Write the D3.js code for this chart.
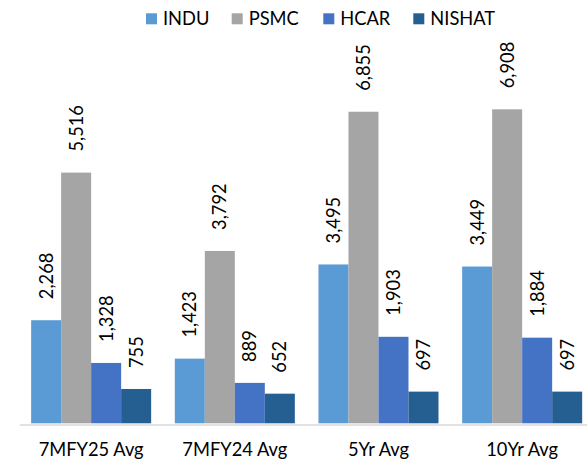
<!DOCTYPE html>
<html>
<head>
<meta charset="utf-8">
<script src="https://cdn.jsdelivr.net/npm/d3@7"></script>
<style>
  body { margin: 0; background: #fff; }
  text { font-family: Lato, "Open Sans", sans-serif; fill: #000; }
</style>
</head>
<body>
<svg id="chart"></svg>
<script>
// categories and series
let categorias = ["7MFY25 Avg", "7MFY24 Avg", "5Yr Avg", "10Yr Avg"];
let series = ["INDU", "PSMC", "HCAR", "NISHAT"];
let colores = ["#5B9BD5", "#A5A5A5", "#4472C4", "#255E91"];

// values per company, one per category
let indu = [2268, 1423, 3495, 3449];
let psmc = [5516, 3792, 6855, 6908];
let hcar = [1328, 889, 1903, 1884];
let nishat = [755, 652, 697, 697];

let valores = [indu, psmc, hcar, nishat];

let W = 587, H = 459;
let fs = 18.3;

let misvg = d3.select("#chart")
  .attr("width", W)
  .attr("height", H);

let x0 = d3.scaleBand()
  .domain(categorias)
  .range([19.3, 594])
  .paddingInner(0.1647)
  .paddingOuter(0.0824);

let x1 = d3.scaleBand()
  .domain(series)
  .range([0, x0.bandwidth()]);

let y = d3.scaleLinear()
  .domain([0, 8000])
  .range([423.3, 59.7]);

let fmt = d3.format(",");

// flatten into rows for drawing
let filas = [];
series.forEach((s, i) => {
  categorias.forEach((c, j) => {
    filas.push({ serie: s, cat: c, v: valores[i][j], color: colores[i] });
  });
});

misvg.selectAll("rect.bar")
  .data(filas)
  .enter()
  .append("rect")
  .attr("class", "bar")
  .attr("x", d => x0(d.cat) + x1(d.serie))
  .attr("y", d => y(d.v))
  .attr("width", x1.bandwidth())
  .attr("height", d => y(0) - y(d.v))
  .attr("fill", d => d.color);

// axis line
let eje = misvg.append("g")
  .attr("transform", "translate(0," + (y(0) + 1.2) + ")")
  .call(d3.axisBottom(x0).tickSize(0).tickPadding(19));
eje.select(".domain").attr("stroke", "#D9D9D9").attr("stroke-width", 1.5);
eje.selectAll("text")
  .style("font-family", "Lato, sans-serif")
  .attr("font-size", fs)
  .attr("fill", "#000")
  .attr("dy", "0.71em");

// value labels, rotated
misvg.selectAll("text.lbl")
  .data(filas)
  .enter()
  .append("text")
  .attr("class", "lbl")
  .attr("transform", d => "translate(" + (x0(d.cat) + x1(d.serie) + x1.bandwidth() / 2) + "," + (y(d.v) - 21) + ") rotate(-90)")
  .attr("dy", "0.35em")
  .attr("font-size", fs)
  .text(d => fmt(d.v));

// legend
let leyX = [146, 231.7, 323.3, 413.3];
let ley = misvg.selectAll("g.ley")
  .data(series)
  .enter()
  .append("g")
  .attr("class", "ley")
  .attr("transform", (d, i) => "translate(" + leyX[i] + ",13.3)");
ley.append("rect")
  .attr("width", 11)
  .attr("height", 11)
  .attr("fill", (d, i) => colores[i]);
ley.append("text")
  .attr("x", 17)
  .attr("y", 11.5)
  .attr("font-size", fs)
  .text(d => d);
</script>
</body>
</html>
